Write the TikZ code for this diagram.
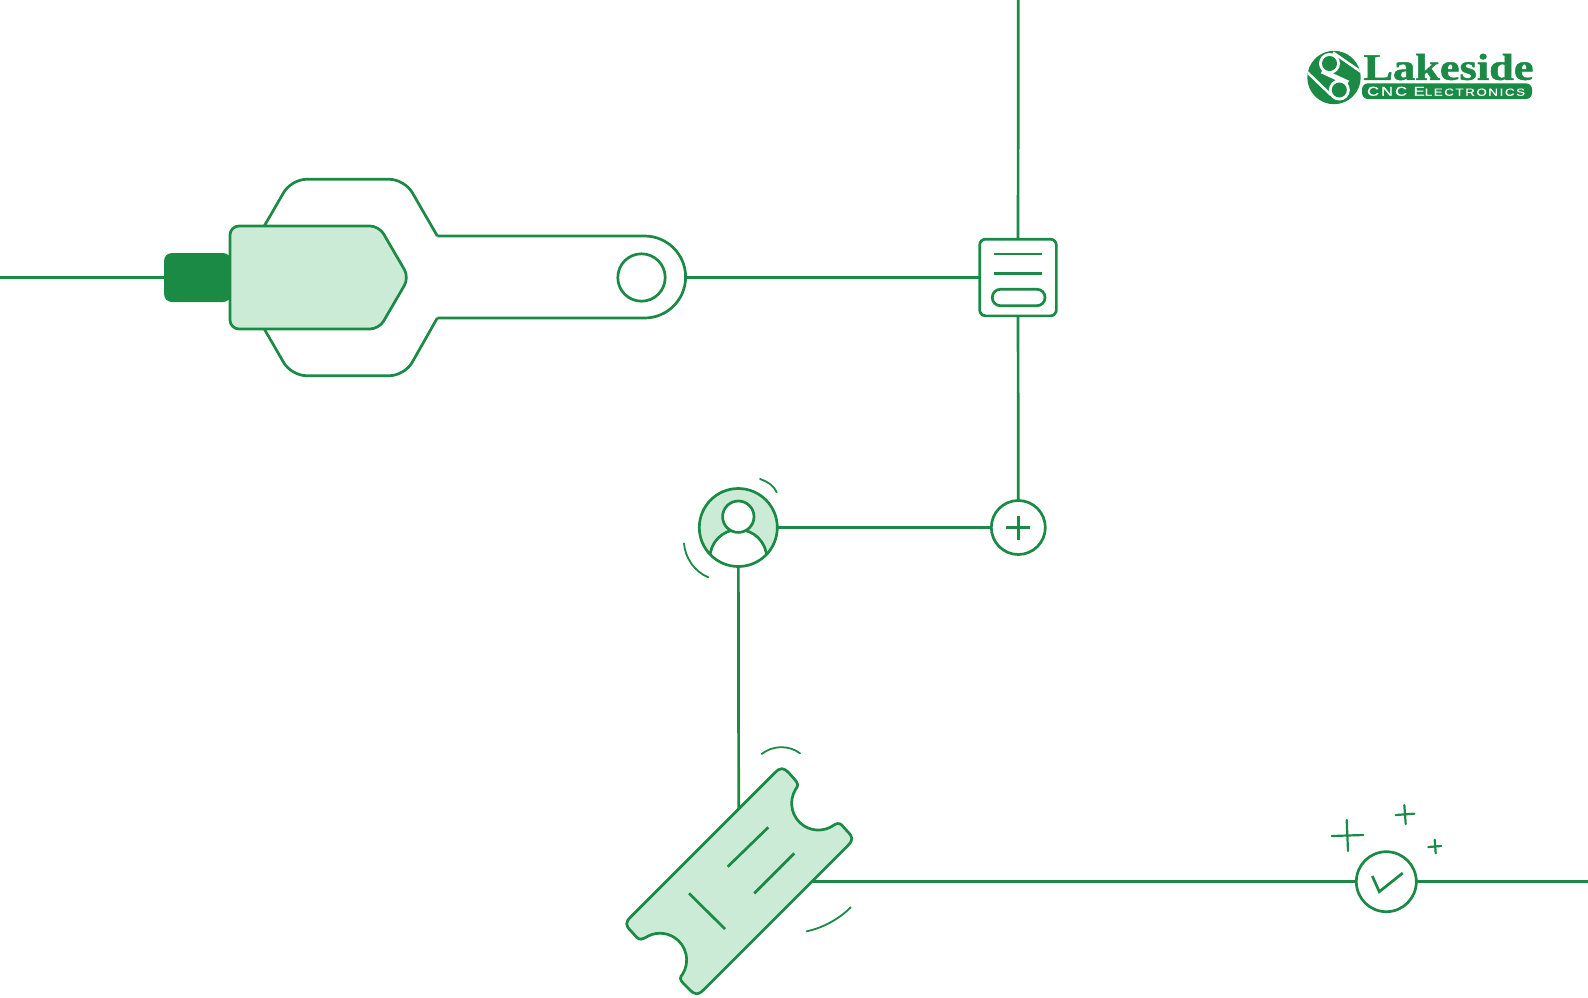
\documentclass[tikz,border=0pt]{standalone}
\usepackage{graphicx}
\usepackage{fontspec}
\newfontfamily\logoserif[FakeBold=1.2]{Liberation Serif Bold}
\newfontfamily\logosans[LetterSpace=12,FakeBold=0.6]{Liberation Sans}
\definecolor{leaf}{HTML}{1A8A45}
\definecolor{mint}{HTML}{CBEBD6}
\tikzset{
	wire/.style={draw=leaf,line width=2.7pt},
	thinwire/.style={draw=leaf,line width=1.8pt,line cap=round},
	spark/.style={draw=leaf,line width=2.2pt,line cap=round},
	disc/.style={circle,draw=leaf,line width=2.7pt,fill=white,inner sep=0pt,outer sep=0pt}
}
\begin{document}
\begin{tikzpicture}[x=1pt,y=-1pt]
	\useasboundingbox (0,0) rectangle (1588,997);
	\fill[white] (0,0) rectangle (1588,997);
	\coordinate (LeftEnd) at (0,277.5);
	\coordinate (TopEnd) at (1018.3,0);
	\coordinate (RightEnd) at (1588,881.7);
	\coordinate (WrenchEnd) at (685.6,277.5);
	\coordinate (TicketTop) at (738.7,809.3);
	\coordinate (TicketRight) at (811.7,881.7);
	% main nodes
	\node[fill=leaf,rounded corners=8pt,minimum width=67pt,minimum height=49pt,inner sep=0pt,outer sep=0pt] (Plug) at (197.5,277.5) {};
	\node[disc,rounded corners=6pt,rectangle,minimum size=76.7pt] (Doc) at (1018,277.5) {};
	\node[disc,minimum size=54pt] (Plus) at (1018.3,527.5) {};
	\node[disc,minimum size=60pt] (Check) at (1386.3,881.7) {};
	\node[disc,minimum size=47.4pt] (Bolt) at (641.5,277.5) {};
	\fill[mint] (738.3,527.5) circle (39);
	\begin{scope}
		\clip (738.3,527.5) circle (39);
		\draw[wire,fill=white] (738.3,558) circle (28.4);
	\end{scope}
	\draw[wire,fill=white] (738.3,516.7) circle (15.7);
	\node[disc,fill=none,minimum size=78pt] (Person) at (738.3,527.5) {};
	% connectors
	\draw[wire] (LeftEnd)--(Plug);
	\draw[wire] (WrenchEnd)--(Doc);
	\draw[wire] (TopEnd)--(Doc);
	\draw[wire] (Doc)--(Plus);
	\draw[wire] (Plus)--(Person);
	\draw[wire] (Person)--(TicketTop);
	\draw[wire] (TicketRight)--(Check);
	\draw[wire] (Check)--(RightEnd);
	% wrench and head
	\draw[wire] (264.3,226) [rounded corners=15pt] --(291.3,179.3)--(404.6,179.3)--(437.3,236);
	\draw[wire] (437.3,236)--(644.6,236) arc[start angle=-90,end angle=90,radius=41]--(437.3,318);
	\draw[wire] (264.3,329) [rounded corners=15pt] --(291.3,375.7)--(404.6,375.7)--(437.3,318);
	\draw[wire,fill=mint,rounded corners=9pt] (230,226)--(379,226)--(409,277.5)--(379,329)--(230,329)--cycle;
	% doc, plus, check details
	\draw[wire] (994,254)--(1042.3,254);
	\draw[wire] (994,273.3)--(1042.3,273.3);
	\draw[wire,rounded corners=8pt] (992.3,289.3) rectangle (1045,305.7);
	\draw[wire] (1006.3,527.5)--(1030.3,527.5);
	\draw[wire] (1018.3,515.5)--(1018.3,539.5);
	\draw[wire] (1372.3,876)--(1379.3,891.7)--(1402.7,873);
	\draw[spark] (1331.7,836)--(1363.3,835);
	\draw[spark] (1346.7,820)--(1348,851);
	\draw[spark] (1395.7,815)--(1414.3,813.7);
	\draw[spark] (1404.3,805)--(1405.7,824);
	\draw[spark] (1428.3,847)--(1441.3,846);
	\draw[spark] (1434.7,839.7)--(1435.7,853.3);
	% person arcs
	\draw[thinwire] (760,479) .. controls (768.5,482) and (774,486) .. (776.7,492.3);
	\draw[thinwire] (684,543.3) .. controls (685,558) and (695,572) .. (708.3,577.3);
	% ticket
	\draw[wire,fill=mint] (774.8,772.8) .. controls (780.3,767.3) and (783.3,767.3) .. (788.8,772.8)
		--(794.3,779) .. controls (799,784.3) and (798,786) .. (795.7,789.2)
		arc[start angle=212,end angle=56,radius=26.7]
		.. controls (836,823.5) and (839,822.5) .. (841.7,825)
		--(847.7,831.7) .. controls (853.2,837.2) and (853.2,840.2) .. (847.7,845.7)
		--(703.7,989.7) .. controls (698.2,995.2) and (695.2,995.2) .. (689.7,989.7)
		--(683,983) .. controls (679.5,979.5) and (680,977) .. (682.6,974.1)
		arc[start angle=32,end angle=-124,radius=26.7]
		.. controls (642.5,939.5) and (639.5,940) .. (636.7,937.3)
		--(630.8,930.8) .. controls (625.3,925.3) and (625.3,922.3) .. (630.8,916.8)
		--cycle;
	\draw[wire] (727.7,866.7)--(768.3,827.3);
	\draw[wire] (754.3,893.3)--(794.3,853.3);
	\draw[wire] (689,893.3)--(725,929);
	\draw[thinwire] (761.7,754) .. controls (773,745) and (789,745) .. (800,753.3);
	\draw[thinwire] (806.7,931.3) .. controls (822,928) and (838,920) .. (850.7,907.3);
	% logo
	\fill[leaf] (1334,77.5) circle (26.7);
	\begin{scope}
		\clip (1334,77.5) circle (26.7);
		\draw[white,line width=2.5pt] (1306,71)--(1331,95);
		\draw[white,line width=2.5pt] (1333,52.5)--(1364,74);
		\draw[white,line width=5pt] (1322,71)--(1348,83);
	\end{scope}
	\foreach \P in {(1329.5,63.5),(1339.3,90)} {
		\fill[white] \P circle (10.5);
		\fill[leaf] \P circle (7.5);
	}
	\node[inner sep=0pt,text=leaf] (LogoName) at (1448.5,67) {\resizebox{170pt}{26pt}{\logoserif Lakeside}};
	\fill[leaf,rounded corners=6pt] (1362,83.3)--(1532,83.3)--(1532,99)--(1362,99)--cycle;
	\node[inner sep=0pt,text=white] (LogoSub) at (1446,91.3) {\resizebox{158pt}{9pt}{\logosans CNC E{\fontsize{8}{8}\selectfont LECTRONICS}}};
\end{tikzpicture}
\end{document}
